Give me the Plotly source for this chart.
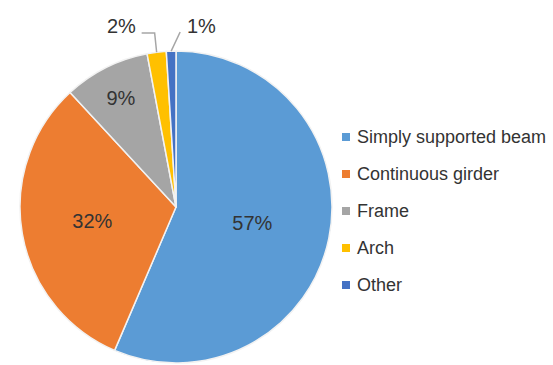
import math
import plotly.graph_objects as go

# Share of bridge types (%)
categories = ["Simply supported beam", "Continuous girder", "Frame", "Arch", "Other"]
shares = [57, 32, 9, 2, 1]
colors = ["#5B9BD5", "#ED7D31", "#A5A5A5", "#FFC000", "#4472C4"]

W, H = 553, 365
CX, CY, R = 176, 207, 156  # pie centre and radius in pixels
TEXT = "#333333"
FONT = "Liberation Sans, Arial, sans-serif"


def px(x):
    return x / W


def py(y):
    return 1 - y / H


# Small slices get their labels outside with leader lines
inside = [s >= 5 for s in shares]

fig = go.Figure(
    go.Pie(
        labels=categories,
        values=shares,
        sort=False,
        direction="clockwise",
        rotation=0,
        marker=dict(colors=colors, line=dict(color="#F2F2F2", width=1.5)),
        text=[f"{s}%" if ins else "" for s, ins in zip(shares, inside)],
        texttemplate="%{text}",
        textposition=["inside" if ins else "none" for ins in inside],
        insidetextorientation="horizontal",
        insidetextfont=dict(family=FONT, size=20, color=TEXT),
        hoverinfo="label+value",
        showlegend=False,
        domain=dict(x=[px(CX - R), px(CX + R)], y=[py(CY + R), py(CY - R)]),
    )
)

shapes = []
annotations = []

# Leader lines for the outside labels
total = sum(shares)
start = 0.0
for i, s in enumerate(shares):
    span = s / total * 360
    mid = math.radians(start + span / 2)
    start += span
    if inside[i]:
        continue
    ex = CX + R * math.sin(mid)
    ey = CY - R * math.cos(mid)
    if math.sin(mid) < -0.08:
        # elbow line going up, then left
        p1 = (ex - 2, 33)
        p2 = (p1[0] - 13, 33)
        path = f"M {px(ex)},{py(ey)} L {px(p1[0])},{py(p1[1])} L {px(p2[0])},{py(p2[1])}"
        lx, anchor = p2[0] - 4, "right"
    else:
        p1 = (ex + 9, 32)
        path = f"M {px(ex)},{py(ey)} L {px(p1[0])},{py(p1[1])}"
        lx, anchor = p1[0] + 5, "left"
    shapes.append(dict(type="path", xref="paper", yref="paper", path=path,
                       line=dict(color="#A6A6A6", width=1.5)))
    annotations.append(dict(x=px(lx), y=py(26), xref="paper", yref="paper",
                            text=f"{s}%", showarrow=False, xanchor=anchor, yanchor="middle",
                            font=dict(family=FONT, size=20, color=TEXT)))

# Legend drawn by hand to get the wide row spacing
LEG_X, LEG_Y0, LEG_DY, SQ = 342, 137, 37, 8
for i, (name, c) in enumerate(zip(categories, colors)):
    y = LEG_Y0 + i * LEG_DY
    shapes.append(dict(type="rect", xref="paper", yref="paper",
                       x0=px(LEG_X), x1=px(LEG_X + SQ), y0=py(y + SQ / 2), y1=py(y - SQ / 2),
                       fillcolor=c, line=dict(width=0)))
    annotations.append(dict(x=px(LEG_X + SQ + 5), y=py(y), xref="paper", yref="paper",
                            text=name, showarrow=False, xanchor="left", yanchor="middle",
                            font=dict(family=FONT, size=18, color=TEXT)))

fig.update_layout(
    width=W,
    height=H,
    margin=dict(l=0, r=0, t=0, b=0),
    paper_bgcolor="white",
    plot_bgcolor="white",
    shapes=shapes,
    annotations=annotations,
)

fig.write_html("out.html")
